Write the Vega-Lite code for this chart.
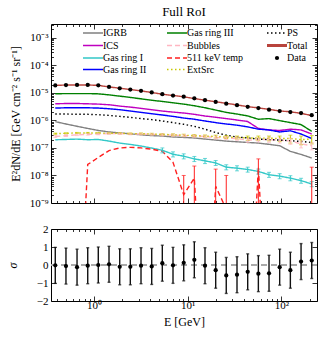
{
 "$schema": "https://vega.github.io/schema/vega-lite/v6.json",
 "padding": {"left": 5, "top": 5, "right": 4, "bottom": 2},
 "config": {
  "font": "Liberation Serif",
  "view": {"stroke": "black", "strokeWidth": 1},
  "axis": {"grid": false, "domain": false, "tickColor": "black", "tickWidth": 0.8, "labelColor": "black", "titleColor": "black", "labelFontSize": 11, "titleFontSize": 12, "titleFontWeight": "normal", "labelOverlap": false, "labelFlush": false},
  "title": {"fontSize": 13, "fontWeight": "normal", "color": "black"}
 },
 "datasets": {
  "spec": [
   {"E":0.386,"IGRB":9.0e-7,"ICS":4.0e-6,"Gas ring I":1.98e-7,"Gas ring II":2.8e-6,"Gas ring III":9.2e-6,"Bubbles":2.6e-7,"511 keV temp":1e-15,"ExtSrc":3.3e-7,"PS":1.70e-6,"Total":1.86e-5,"Data":1.86e-5,"sig":-0.02,"se":1},
   {"E":0.502,"IGRB":7.4e-7,"ICS":4.1e-6,"Gas ring I":2.03e-7,"Gas ring II":2.87e-6,"Gas ring III":9.4e-6,"Bubbles":2.8e-7,"511 keV temp":1e-15,"ExtSrc":3.4e-7,"PS":1.70e-6,"Total":1.93e-5,"Data":1.92e-5,"sig":-0.06,"se":1},
   {"E":0.659,"IGRB":6.1e-7,"ICS":4.1e-6,"Gas ring I":2.09e-7,"Gas ring II":2.87e-6,"Gas ring III":9.4e-6,"Bubbles":3.0e-7,"511 keV temp":1e-15,"ExtSrc":3.5e-7,"PS":1.66e-6,"Total":1.94e-5,"Data":1.93e-5,"sig":-0.12,"se":1},
   {"E":0.857,"IGRB":5.1e-7,"ICS":4.0e-6,"Gas ring I":1.98e-7,"Gas ring II":2.87e-6,"Gas ring III":9.4e-6,"Bubbles":3.1e-7,"511 keV temp":2.5e-8,"ExtSrc":3.5e-7,"PS":1.66e-6,"Total":1.93e-5,"Data":1.93e-5,"sig":-0.04,"se":1},
   {"E":1.111,"IGRB":4.3e-7,"ICS":3.9e-6,"Gas ring I":2.03e-7,"Gas ring II":2.8e-6,"Gas ring III":9.2e-6,"Bubbles":3.2e-7,"511 keV temp":4.5e-8,"ExtSrc":3.5e-7,"PS":1.61e-6,"Total":1.87e-5,"Data":1.87e-5,"sig":0.0,"se":1},
   {"E":1.446,"IGRB":3.8e-7,"ICS":3.7e-6,"Gas ring I":1.77e-7,"Gas ring II":2.65e-6,"Gas ring III":8.45e-6,"Bubbles":3.3e-7,"511 keV temp":8.0e-8,"ExtSrc":3.4e-7,"PS":1.52e-6,"Total":1.64e-5,"Data":1.64e-5,"sig":0.04,"se":1},
   {"E":1.881,"IGRB":3.5e-7,"ICS":3.3e-6,"Gas ring I":1.50e-7,"Gas ring II":2.44e-6,"Gas ring III":7.6e-6,"Bubbles":3.3e-7,"511 keV temp":1.0e-7,"ExtSrc":3.4e-7,"PS":1.40e-6,"Total":1.47e-5,"Data":1.46e-5,"sig":-0.10,"se":1},
   {"E":2.441,"IGRB":3.25e-7,"ICS":3.04e-6,"Gas ring I":1.34e-7,"Gas ring II":2.18e-6,"Gas ring III":6.8e-6,"Bubbles":3.2e-7,"511 keV temp":1.05e-7,"ExtSrc":3.3e-7,"PS":1.29e-6,"Total":1.32e-5,"Data":1.31e-5,"sig":-0.10,"se":1},
   {"E":3.175,"IGRB":3.0e-7,"ICS":2.72e-6,"Gas ring I":1.17e-7,"Gas ring II":1.95e-6,"Gas ring III":6.07e-6,"Bubbles":3.2e-7,"511 keV temp":1.0e-7,"ExtSrc":3.3e-7,"PS":1.16e-6,"Total":1.18e-5,"Data":1.18e-5,"sig":-0.04,"se":1},
   {"E":4.13,"IGRB":2.8e-7,"ICS":2.44e-6,"Gas ring I":9.9e-8,"Gas ring II":1.75e-6,"Gas ring III":5.4e-6,"Bubbles":3.1e-7,"511 keV temp":9.0e-8,"ExtSrc":3.2e-7,"PS":1.07e-6,"Total":1.03e-5,"Data":1.03e-5,"sig":-0.08,"se":1},
   {"E":5.36,"IGRB":2.7e-7,"ICS":2.18e-6,"Gas ring I":8.2e-8,"Gas ring II":1.57e-6,"Gas ring III":4.86e-6,"Bubbles":3.0e-7,"511 keV temp":7.5e-8,"ExtSrc":3.1e-7,"PS":9.5e-7,"Total":8.9e-6,"Data":8.95e-6,"sig":0.10,"se":1},
   {"E":6.97,"IGRB":2.5e-7,"ICS":2.0e-6,"Gas ring I":5.9e-8,"Gas ring II":1.4e-6,"Gas ring III":4.35e-6,"Bubbles":2.9e-7,"511 keV temp":3.0e-8,"ExtSrc":3.0e-7,"PS":8.3e-7,"Total":8.0e-6,"Data":8.0e-6,"sig":-0.02,"se":1},
   {"E":9.07,"IGRB":2.4e-7,"ICS":1.85e-6,"Gas ring I":5.0e-8,"Gas ring II":1.22e-6,"Gas ring III":3.9e-6,"Bubbles":2.8e-7,"511 keV temp":2e-9,"ExtSrc":2.9e-7,"PS":7.2e-7,"Total":7.2e-6,"Data":7.25e-6,"sig":0.12,"se":1},
   {"E":11.77,"IGRB":2.3e-7,"ICS":1.66e-6,"Gas ring I":4.0e-8,"Gas ring II":1.1e-6,"Gas ring III":3.4e-6,"Bubbles":2.7e-7,"511 keV temp":8e-9,"ExtSrc":2.8e-7,"PS":6.1e-7,"Total":6.2e-6,"Data":6.3e-6,"sig":0.29,"se":1},
   {"E":15.3,"IGRB":2.1e-7,"ICS":1.44e-6,"Gas ring I":3.4e-8,"Gas ring II":9.5e-7,"Gas ring III":2.88e-6,"Bubbles":2.6e-7,"511 keV temp":1e-15,"ExtSrc":2.7e-7,"PS":4.8e-7,"Total":5.4e-6,"Data":5.4e-6,"sig":-0.04,"se":1},
   {"E":19.9,"IGRB":1.93e-7,"ICS":1.3e-6,"Gas ring I":2.86e-8,"Gas ring II":8.3e-7,"Gas ring III":2.37e-6,"Bubbles":2.4e-7,"511 keV temp":4e-9,"ExtSrc":2.6e-7,"PS":3.6e-7,"Total":4.75e-6,"Data":4.7e-6,"sig":-0.29,"se":1},
   {"E":25.8,"IGRB":1.77e-7,"ICS":1.16e-6,"Gas ring I":2.0e-8,"Gas ring II":7.4e-7,"Gas ring III":1.95e-6,"Bubbles":2.3e-7,"511 keV temp":6e-10,"ExtSrc":2.5e-7,"PS":2.9e-7,"Total":4.15e-6,"Data":4.05e-6,"sig":-0.58,"se":1},
   {"E":33.6,"IGRB":1.67e-7,"ICS":1.03e-6,"Gas ring I":1.84e-8,"Gas ring II":6.7e-7,"Gas ring III":1.7e-6,"Bubbles":2.2e-7,"511 keV temp":1e-15,"ExtSrc":2.4e-7,"PS":2.5e-7,"Total":3.65e-6,"Data":3.55e-6,"sig":-0.54,"se":1},
   {"E":43.7,"IGRB":1.58e-7,"ICS":9.1e-7,"Gas ring I":1.65e-8,"Gas ring II":5.8e-7,"Gas ring III":1.45e-6,"Bubbles":1.9e-7,"511 keV temp":1e-15,"ExtSrc":2.3e-7,"PS":2.3e-7,"Total":3.15e-6,"Data":3.1e-6,"sig":-0.38,"se":1},
   {"E":56.8,"IGRB":1.5e-7,"ICS":5.1e-7,"Gas ring I":1.40e-8,"Gas ring II":4.8e-7,"Gas ring III":1.1e-6,"Bubbles":2.0e-7,"511 keV temp":2e-8,"ExtSrc":2.3e-7,"PS":2.1e-7,"Total":2.85e-6,"Data":2.8e-6,"sig":-0.48,"se":1},
   {"E":73.8,"IGRB":1.35e-7,"ICS":4.5e-7,"Gas ring I":1.06e-8,"Gas ring II":4.5e-7,"Gas ring III":1.16e-6,"Bubbles":2.0e-7,"511 keV temp":1e-15,"ExtSrc":2.25e-7,"PS":2.0e-7,"Total":2.5e-6,"Data":2.44e-6,"sig":-0.46,"se":1},
   {"E":95.9,"IGRB":1.2e-7,"ICS":4.3e-7,"Gas ring I":9.5e-9,"Gas ring II":3.8e-7,"Gas ring III":9.8e-7,"Bubbles":1.9e-7,"511 keV temp":1e-15,"ExtSrc":2.2e-7,"PS":1.93e-7,"Total":2.2e-6,"Data":2.18e-6,"sig":-0.12,"se":1},
   {"E":124.7,"IGRB":7.5e-8,"ICS":4.8e-7,"Gas ring I":8.0e-9,"Gas ring II":4.2e-7,"Gas ring III":8.3e-7,"Bubbles":1.8e-7,"511 keV temp":1e-15,"ExtSrc":2.2e-7,"PS":1.82e-7,"Total":2.05e-6,"Data":2.01e-6,"sig":-0.29,"se":1},
   {"E":162.2,"IGRB":5.8e-8,"ICS":4.5e-7,"Gas ring I":6.5e-9,"Gas ring II":3.2e-7,"Gas ring III":7.05e-7,"Bubbles":1.4e-7,"511 keV temp":1e-15,"ExtSrc":2.0e-7,"PS":1.72e-7,"Total":1.8e-6,"Data":1.85e-6,"sig":0.19,"se":1},
   {"E":210.9,"IGRB":4.3e-8,"ICS":3.2e-7,"Gas ring I":4.9e-9,"Gas ring II":2.2e-7,"Gas ring III":4.0e-7,"Bubbles":1.2e-7,"511 keV temp":1e-15,"ExtSrc":2.1e-7,"PS":1.58e-7,"Total":1.5e-6,"Data":1.55e-6,"sig":0.25,"se":1}
  ],
  "bars": [
   {"s":"Gas ring I","E":5.36,"lo":6.6e-8,"hi":1.0e-7},
   {"s":"Gas ring I","E":6.97,"lo":4.7e-8,"hi":7.2e-8},
   {"s":"Gas ring I","E":9.07,"lo":4.0e-8,"hi":6.1e-8},
   {"s":"Gas ring I","E":11.77,"lo":3.2e-8,"hi":4.9e-8},
   {"s":"Gas ring I","E":15.3,"lo":2.7e-8,"hi":4.15e-8},
   {"s":"Gas ring I","E":19.9,"lo":2.3e-8,"hi":3.5e-8},
   {"s":"Gas ring I","E":25.8,"lo":1.6e-8,"hi":2.45e-8},
   {"s":"Gas ring I","E":33.6,"lo":1.47e-8,"hi":2.25e-8},
   {"s":"Gas ring I","E":43.7,"lo":1.32e-8,"hi":2.0e-8},
   {"s":"Gas ring I","E":56.8,"lo":1.12e-8,"hi":1.7e-8},
   {"s":"Gas ring I","E":73.8,"lo":8.5e-9,"hi":1.3e-8},
   {"s":"Gas ring I","E":95.9,"lo":7.6e-9,"hi":1.16e-8},
   {"s":"Gas ring I","E":124.7,"lo":6.4e-9,"hi":9.8e-9},
   {"s":"Gas ring I","E":162.2,"lo":5.2e-9,"hi":7.9e-9},
   {"s":"Gas ring I","E":210.9,"lo":3.9e-9,"hi":6.0e-9},
   {"s":"ExtSrc","E":0.386,"lo":3.15e-7,"hi":3.45e-7},
   {"s":"ExtSrc","E":0.502,"lo":3.25e-7,"hi":3.55e-7},
   {"s":"ExtSrc","E":0.659,"lo":3.35e-7,"hi":3.65e-7},
   {"s":"ExtSrc","E":0.857,"lo":3.35e-7,"hi":3.65e-7},
   {"s":"ExtSrc","E":1.111,"lo":3.35e-7,"hi":3.65e-7},
   {"s":"ExtSrc","E":1.446,"lo":3.25e-7,"hi":3.55e-7},
   {"s":"ExtSrc","E":1.881,"lo":3.2e-7,"hi":3.6e-7},
   {"s":"ExtSrc","E":2.441,"lo":3.1e-7,"hi":3.5e-7},
   {"s":"ExtSrc","E":3.175,"lo":3.1e-7,"hi":3.5e-7},
   {"s":"ExtSrc","E":4.13,"lo":3.0e-7,"hi":3.4e-7},
   {"s":"ExtSrc","E":5.36,"lo":2.9e-7,"hi":3.3e-7},
   {"s":"ExtSrc","E":6.97,"lo":2.75e-7,"hi":3.25e-7},
   {"s":"ExtSrc","E":9.07,"lo":2.65e-7,"hi":3.15e-7},
   {"s":"ExtSrc","E":11.77,"lo":2.55e-7,"hi":3.05e-7},
   {"s":"ExtSrc","E":15.3,"lo":2.45e-7,"hi":2.95e-7},
   {"s":"ExtSrc","E":19.9,"lo":2.3e-7,"hi":2.9e-7},
   {"s":"ExtSrc","E":25.8,"lo":2.2e-7,"hi":2.8e-7},
   {"s":"ExtSrc","E":33.6,"lo":2.1e-7,"hi":2.7e-7},
   {"s":"ExtSrc","E":43.7,"lo":1.9e-7,"hi":2.7e-7},
   {"s":"ExtSrc","E":56.8,"lo":1.9e-7,"hi":2.7e-7},
   {"s":"ExtSrc","E":73.8,"lo":1.8e-7,"hi":2.7e-7},
   {"s":"ExtSrc","E":95.9,"lo":1.7e-7,"hi":2.7e-7},
   {"s":"ExtSrc","E":124.7,"lo":1.5e-7,"hi":2.9e-7},
   {"s":"ExtSrc","E":162.2,"lo":1.3e-7,"hi":2.7e-7},
   {"s":"ExtSrc","E":210.9,"lo":1.4e-7,"hi":2.8e-7},
   {"s":"Bubbles","E":0.386,"lo":2.4e-7,"hi":2.8e-7},
   {"s":"Bubbles","E":0.502,"lo":2.6e-7,"hi":3.0e-7},
   {"s":"Bubbles","E":0.659,"lo":2.8e-7,"hi":3.2e-7},
   {"s":"Bubbles","E":0.857,"lo":2.9e-7,"hi":3.3e-7},
   {"s":"Bubbles","E":1.111,"lo":3.0e-7,"hi":3.4e-7},
   {"s":"Bubbles","E":1.446,"lo":3.1e-7,"hi":3.5e-7},
   {"s":"Bubbles","E":1.881,"lo":3.1e-7,"hi":3.5e-7},
   {"s":"Bubbles","E":2.441,"lo":3.0e-7,"hi":3.4e-7},
   {"s":"Bubbles","E":3.175,"lo":3.0e-7,"hi":3.4e-7},
   {"s":"Bubbles","E":4.13,"lo":2.9e-7,"hi":3.3e-7},
   {"s":"Bubbles","E":5.36,"lo":2.75e-7,"hi":3.25e-7},
   {"s":"Bubbles","E":6.97,"lo":2.65e-7,"hi":3.15e-7},
   {"s":"Bubbles","E":9.07,"lo":2.55e-7,"hi":3.05e-7},
   {"s":"Bubbles","E":11.77,"lo":2.45e-7,"hi":2.95e-7},
   {"s":"Bubbles","E":15.3,"lo":2.35e-7,"hi":2.85e-7},
   {"s":"Bubbles","E":19.9,"lo":2.1e-7,"hi":2.7e-7},
   {"s":"Bubbles","E":25.8,"lo":2.0e-7,"hi":2.6e-7},
   {"s":"Bubbles","E":33.6,"lo":1.9e-7,"hi":2.5e-7},
   {"s":"Bubbles","E":43.7,"lo":1.6e-7,"hi":2.2e-7},
   {"s":"Bubbles","E":56.8,"lo":1.65e-7,"hi":2.35e-7},
   {"s":"Bubbles","E":73.8,"lo":1.6e-7,"hi":2.4e-7},
   {"s":"Bubbles","E":95.9,"lo":1.5e-7,"hi":2.3e-7},
   {"s":"Bubbles","E":124.7,"lo":1.35e-7,"hi":2.25e-7},
   {"s":"Bubbles","E":162.2,"lo":1.0e-7,"hi":1.8e-7},
   {"s":"Bubbles","E":210.9,"lo":8.5e-8,"hi":1.55e-7},
   {"s":"511 keV temp","E":9.07,"lo":1e-15,"hi":1.0e-8},
   {"s":"511 keV temp","E":11.77,"lo":1e-15,"hi":2.2e-8},
   {"s":"511 keV temp","E":19.9,"lo":1e-15,"hi":1.7e-8},
   {"s":"511 keV temp","E":25.8,"lo":1e-15,"hi":1.0e-8},
   {"s":"511 keV temp","E":56.8,"lo":1e-15,"hi":4.0e-8},
   {"s":"511 keV temp","E":210.9,"lo":1e-15,"hi":2.0e-8}
  ]
 },
 "vconcat": [
  {
   "width": 266,
   "height": 179,
   "title": {"text": "Full RoI", "anchor": "middle", "offset": 0},
   "data": {"name": "spec"},
   "layer": [
    {
     "transform": [{"fold": ["IGRB","ICS","Gas ring I","Gas ring II","Gas ring III","Bubbles","511 keV temp","ExtSrc","PS","Total"], "as": ["s","v"]}],
     "mark": {"type": "line", "clip": true, "strokeWidth": 1.4},
     "encoding": {
      "x": {"field": "E", "type": "quantitative", "scale": {"type": "log", "domain": [0.3475, 240], "nice": false},
            "axis": {"orient": "bottom", "title": null, "labels": false, "values": [0.4,0.5,0.6,0.7,0.8,0.9,1,2,3,4,5,6,7,8,9,10,20,30,40,50,60,70,80,90,100,200],
                     "tickSize": {"condition": {"test": "datum.value === 1 || datum.value === 10 || datum.value === 100", "value": -5}, "value": -2.5}}},
      "y": {"field": "v", "type": "quantitative", "scale": {"type": "log", "domain": [1e-9, 0.003162], "nice": false},
            "axis": {"orient": "left", "title": "E²dN/dE [GeV cm⁻² s⁻¹ sr⁻¹]", "titlePadding": 7, "labelPadding": 8,
                     "values": [1e-9,2e-9,3e-9,4e-9,5e-9,6e-9,7e-9,8e-9,9e-9,1e-8,2e-8,3e-8,4e-8,5e-8,6e-8,7e-8,8e-8,9e-8,1e-7,2e-7,3e-7,4e-7,5e-7,6e-7,7e-7,8e-7,9e-7,1e-6,2e-6,3e-6,4e-6,5e-6,6e-6,7e-6,8e-6,9e-6,1e-5,2e-5,3e-5,4e-5,5e-5,6e-5,7e-5,8e-5,9e-5,1e-4,2e-4,3e-4,4e-4,5e-4,6e-4,7e-4,8e-4,9e-4,1e-3,2e-3,3e-3],
                     "labelExpr": "abs(log(datum.value)/LN10 - round(log(datum.value)/LN10)) < 0.001 ? ['10⁻⁹','10⁻⁸','10⁻⁷','10⁻⁶','10⁻⁵','10⁻⁴','10⁻³'][round(log(datum.value)/LN10)+9] : ''",
                     "tickSize": {"condition": {"test": "abs(log(datum.value)/LN10 - round(log(datum.value)/LN10)) < 0.001", "value": -5}, "value": -2.5}}},
      "color": {"field": "s", "type": "nominal",
                "scale": {"domain": ["IGRB","ICS","Gas ring I","Gas ring II","Gas ring III","Bubbles","511 keV temp","ExtSrc","PS","Total","Data"],
                          "range": ["#808080","#bf00bf","#33c8c8","#0000ff","#008000","#ffb6c1","#ff2020","#c8c800","#000000","#b8433c","#000000"]},
                "legend": {"title": null, "orient": "none", "legendX": 37, "legendY": 4, "columns": 3, "columnPadding": 17, "rowPadding": 1.5, "symbolType": "stroke", "symbolSize": 400, "symbolStrokeWidth": 1.5, "labelFontSize": 10, "labelOffset": 5, "padding": 0, "symbolLimit": 0,
                           "encode": {"symbols": {"update": {
                             "shape": {"signal": "datum.value === 'Data' ? 'circle' : 'stroke'"},
                             "fill": {"signal": "datum.value === 'Data' ? 'black' : 'transparent'"},
                             "size": {"signal": "datum.value === 'Data' ? 18 : 400"},
                             "strokeWidth": {"signal": "datum.value === 'Total' ? 3 : datum.value === 'Data' ? 0 : 1.5"}}}}}},
      "strokeDash": {"field": "s", "type": "nominal",
                "scale": {"domain": ["IGRB","ICS","Gas ring I","Gas ring II","Gas ring III","Bubbles","511 keV temp","ExtSrc","PS","Total","Data"],
                          "range": [[1,0],[1,0],[1,0],[1,0],[1,0],[5,3],[5,3],[1.5,2.5],[1.5,2.5],[1,0],[1,0]]},
                "legend": {"title": null, "orient": "none", "legendX": 37, "legendY": 4, "columns": 3, "columnPadding": 17, "rowPadding": 1.5, "symbolType": "stroke", "symbolSize": 400, "symbolStrokeWidth": 1.5, "labelFontSize": 10, "labelOffset": 5, "padding": 0, "symbolLimit": 0,
                           "encode": {"symbols": {"update": {
                             "shape": {"signal": "datum.value === 'Data' ? 'circle' : 'stroke'"},
                             "fill": {"signal": "datum.value === 'Data' ? 'black' : 'transparent'"},
                             "size": {"signal": "datum.value === 'Data' ? 18 : 400"},
                             "strokeWidth": {"signal": "datum.value === 'Total' ? 3 : datum.value === 'Data' ? 0 : 1.5"}}}}}},
      "strokeWidth": {"condition": {"test": "datum.s === 'Total'", "value": 3}, "value": 1.4}
     }
    },
    {
     "data": {"name": "bars"},
     "mark": {"type": "errorbar", "clip": true, "ticks": {"size": 4}, "thickness": 1},
     "encoding": {
      "x": {"field": "E", "type": "quantitative", "axis": null},
      "y": {"field": "lo", "type": "quantitative", "axis": null},
      "y2": {"field": "hi"},
      "color": {"field": "s", "type": "nominal"}
     }
    },
    {
     "mark": {"type": "point", "filled": true, "size": 18, "color": "black", "opacity": 1, "clip": true},
     "encoding": {
      "x": {"field": "E", "type": "quantitative",
            "axis": {"orient": "top", "title": null, "labels": false, "values": [0.4,0.5,0.6,0.7,0.8,0.9,1,2,3,4,5,6,7,8,9,10,20,30,40,50,60,70,80,90,100,200],
                     "tickSize": {"condition": {"test": "datum.value === 1 || datum.value === 10 || datum.value === 100", "value": -5}, "value": -2.5}}},
      "y": {"field": "Data", "type": "quantitative",
            "axis": {"orient": "right", "title": null, "labels": false,
                     "values": [1e-9,2e-9,3e-9,4e-9,5e-9,6e-9,7e-9,8e-9,9e-9,1e-8,2e-8,3e-8,4e-8,5e-8,6e-8,7e-8,8e-8,9e-8,1e-7,2e-7,3e-7,4e-7,5e-7,6e-7,7e-7,8e-7,9e-7,1e-6,2e-6,3e-6,4e-6,5e-6,6e-6,7e-6,8e-6,9e-6,1e-5,2e-5,3e-5,4e-5,5e-5,6e-5,7e-5,8e-5,9e-5,1e-4,2e-4,3e-4,4e-4,5e-4,6e-4,7e-4,8e-4,9e-4,1e-3,2e-3,3e-3],
                     "tickSize": {"condition": {"test": "abs(log(datum.value)/LN10 - round(log(datum.value)/LN10)) < 0.001", "value": -5}, "value": -2.5}}}
     }
    }
   ],
   "resolve": {"axis": {"x": "independent", "y": "independent"}}
  },
  {
   "width": 266,
   "height": 72,
   "data": {"name": "spec"},
   "layer": [
    {
     "mark": {"type": "rule", "color": "#aaaaaa", "strokeDash": [6,4], "strokeWidth": 2},
     "encoding": {"y": {"datum": 0, "type": "quantitative", "scale": {"domain": [-2, 2], "nice": false}, "axis": null}}
    },
    {
     "mark": {"type": "errorbar", "ticks": {"size": 3}, "thickness": 1.4, "color": "#111111"},
     "encoding": {
      "x": {"field": "E", "type": "quantitative", "scale": {"type": "log", "domain": [0.3475, 240], "nice": false},
            "axis": {"orient": "bottom", "title": "E [GeV]", "titlePadding": 4, "labelPadding": 3, "values": [0.4,0.5,0.6,0.7,0.8,0.9,1,2,3,4,5,6,7,8,9,10,20,30,40,50,60,70,80,90,100,200],
                     "labelExpr": "datum.value === 1 ? '10⁰' : datum.value === 10 ? '10¹' : datum.value === 100 ? '10²' : ''",
                     "tickSize": {"condition": {"test": "datum.value === 1 || datum.value === 10 || datum.value === 100", "value": -5}, "value": -2.5}}},
      "y": {"field": "sig", "type": "quantitative", "scale": {"domain": [-2, 2], "nice": false},
            "axis": {"orient": "left", "title": "σ", "titleFontStyle": "italic", "titlePadding": 17, "labelPadding": 8, "values": [-2,-1,0,1,2], "tickSize": -5}},
      "yError": {"field": "se"}
     }
    },
    {
     "mark": {"type": "point", "filled": true, "size": 18, "color": "black", "opacity": 1},
     "encoding": {
      "x": {"field": "E", "type": "quantitative",
            "axis": {"orient": "top", "title": null, "labels": false, "values": [0.4,0.5,0.6,0.7,0.8,0.9,1,2,3,4,5,6,7,8,9,10,20,30,40,50,60,70,80,90,100,200],
                     "tickSize": {"condition": {"test": "datum.value === 1 || datum.value === 10 || datum.value === 100", "value": -5}, "value": -2.5}}},
      "y": {"field": "sig", "type": "quantitative",
            "axis": {"orient": "right", "title": null, "labels": false, "values": [-2,-1,0,1,2], "tickSize": -5}}
     }
    }
   ],
   "resolve": {"axis": {"x": "independent", "y": "independent"}}
  }
 ],
 "spacing": 13,
 "resolve": {"scale": {"color": "independent", "strokeDash": "independent"}}
}
